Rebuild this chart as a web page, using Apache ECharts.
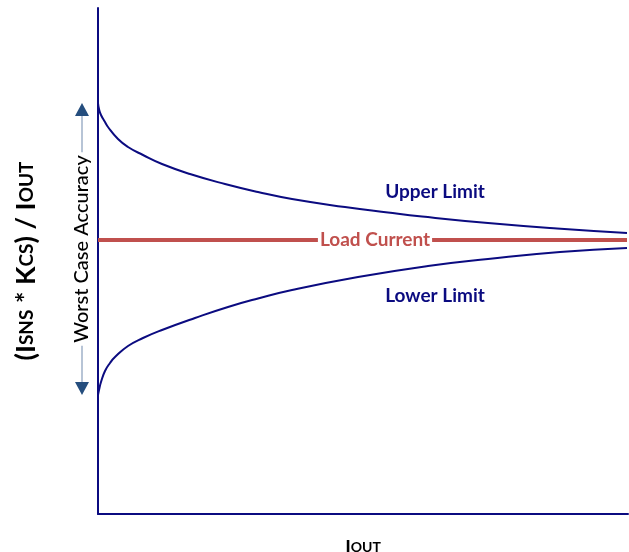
<!DOCTYPE html>
<html lang="en">
<head>
    <meta charset="UTF-8">
    <title>Current sense accuracy</title>
    <script src="https://cdn.jsdelivr.net/npm/echarts@6/dist/echarts.min.js"></script>
</head>
<body style="margin:0;background:#fff;">
    <div id="myCharts" style="width: 629px;height:552px;"></div>

    <script type="text/javascript">
        // x: load current (arbitrary units), y: ratio (arbitrary units)
        var upperLimit = [[0, 411], [1, 405], [3, 399], [7, 392], [10, 387], [20, 375], [30, 367], [45, 359],
            [64, 350], [92, 340], [127, 330], [160, 322], [194, 315], [247, 307], [290, 301.5], [324, 297.5],
            [390, 291], [459, 285.5], [529, 281]];
        var lowerLimit = [[0, 119], [1, 124], [3, 132], [7, 143], [12, 151], [17, 157], [30, 168], [45, 176],
            [64, 184], [97, 196], [130, 207], [160, 215.5], [194, 224], [260, 237], [330, 248], [390, 255],
            [462, 262], [529, 266]];
        var loadCurrent = [[0, 274], [529, 274]];
        var loadLabelPos = [[277, 274]];
        var upperLabelPos = [337, 322];
        var lowerLabelPos = [337, 218];

        var navy = '#0b0b80';
        var myChart = echarts.init(document.getElementById('myCharts'));

        var option = {
            animation: false,
            grid: { left: 98, right: 1, top: 8, bottom: 38, outerBoundsMode: 'none' },
            xAxis: {
                type: 'value',
                min: 0,
                max: 530,
                axisLine: { show: true, lineStyle: { color: navy, width: 2 } },
                axisTick: { show: false },
                axisLabel: { show: false },
                splitLine: { show: false },
                name: '{b|I}{s|OUT}',
                nameLocation: 'middle',
                nameGap: 24,
                nameTextStyle: {
                    rich: {
                        b: { fontFamily: 'Lato', fontWeight: 'bold', fontSize: 19, color: '#000' },
                        s: { fontFamily: 'Lato', fontWeight: 'bold', fontSize: 14, color: '#000' }
                    }
                }
            },
            yAxis: {
                type: 'value',
                min: 0,
                max: 506,
                axisLine: { show: true, lineStyle: { color: navy, width: 2 } },
                axisTick: { show: false },
                axisLabel: { show: false },
                splitLine: { show: false },
                name: '{b|(I}{s|SNS}{b| * K}{s|CS}{b|) / I}{s|OUT}',
                nameLocation: 'middle',
                nameRotate: 90,
                nameGap: 58,
                nameTextStyle: {
                    rich: {
                        b: { fontFamily: 'Lato', fontWeight: 'bold', fontSize: 27, color: '#000' },
                        s: { fontFamily: 'Lato', fontWeight: 'bold', fontSize: 19, color: '#000' }
                    }
                }
            },
            series: [
                {
                    name: 'Upper Limit',
                    type: 'line',
                    smooth: true,
                    symbol: 'none',
                    lineStyle: { color: navy, width: 2 },
                    data: upperLimit
                },
                {
                    name: 'Lower Limit',
                    type: 'line',
                    smooth: true,
                    symbol: 'none',
                    lineStyle: { color: navy, width: 2 },
                    data: lowerLimit
                },
                {
                    name: 'Load Current',
                    type: 'line',
                    symbol: 'none',
                    lineStyle: { color: '#c0504d', width: 4 },
                    data: loadCurrent,
                    z: 3
                },
                {
                    name: 'Load Current Label',
                    type: 'scatter',
                    symbolSize: 0,
                    z: 5,
                    itemStyle: { opacity: 1 },
                    label: {
                        show: true,
                        position: 'inside',
                        formatter: 'Load Current',
                        fontFamily: 'Lato',
                        fontWeight: 'bold',
                        fontSize: 19,
                        color: '#c0504d',
                        opacity: 1,
                        backgroundColor: '#fff',
                        padding: [0, 2]
                    },
                    data: loadLabelPos
                }
            ]
        };
        myChart.setOption(option, true);

        // annotations: worst case accuracy arrow spans the two limits at x = 0
        var pTop = myChart.convertToPixel({ gridIndex: 0 }, upperLimit[0]);
        var pBot = myChart.convertToPixel({ gridIndex: 0 }, lowerLimit[0]);
        var ax = 82;
        var upPix = myChart.convertToPixel({ gridIndex: 0 }, upperLabelPos);
        var loPix = myChart.convertToPixel({ gridIndex: 0 }, lowerLabelPos);
        myChart.setOption({
            graphic: [
                {
                    type: 'line',
                    shape: { x1: ax, y1: pTop[1] + 10, x2: ax, y2: pBot[1] - 10 },
                    style: { stroke: '#9fb0c8', lineWidth: 1.5 }
                },
                {
                    type: 'polygon',
                    shape: { points: [[ax, pTop[1]], [ax - 7, pTop[1] + 13], [ax + 7, pTop[1] + 13]] },
                    style: { fill: '#254e7e' }
                },
                {
                    type: 'polygon',
                    shape: { points: [[ax, pBot[1]], [ax - 7, pBot[1] - 13], [ax + 7, pBot[1] - 13]] },
                    style: { fill: '#254e7e' }
                },
                {
                    type: 'text',
                    x: ax,
                    y: (pTop[1] + pBot[1]) / 2,
                    rotation: Math.PI / 2,
                    style: {
                        text: 'Worst Case Accuracy',
                        fontFamily: 'Lato',
                        fontWeight: 500,
                        fontSize: 20,
                        fill: '#000',
                        align: 'center',
                        verticalAlign: 'middle',
                        backgroundColor: '#fff',
                        padding: [0, 3]
                    }
                },
                {
                    type: 'text',
                    x: upPix[0],
                    y: upPix[1],
                    style: {
                        text: 'Upper Limit',
                        fontFamily: 'Lato',
                        fontWeight: 'bold',
                        fontSize: 19,
                        fill: navy,
                        align: 'center',
                        verticalAlign: 'middle'
                    }
                },
                {
                    type: 'text',
                    x: loPix[0],
                    y: loPix[1],
                    style: {
                        text: 'Lower Limit',
                        fontFamily: 'Lato',
                        fontWeight: 'bold',
                        fontSize: 19,
                        fill: navy,
                        align: 'center',
                        verticalAlign: 'middle'
                    }
                }
            ]
        });
    </script>
</body>
</html>
